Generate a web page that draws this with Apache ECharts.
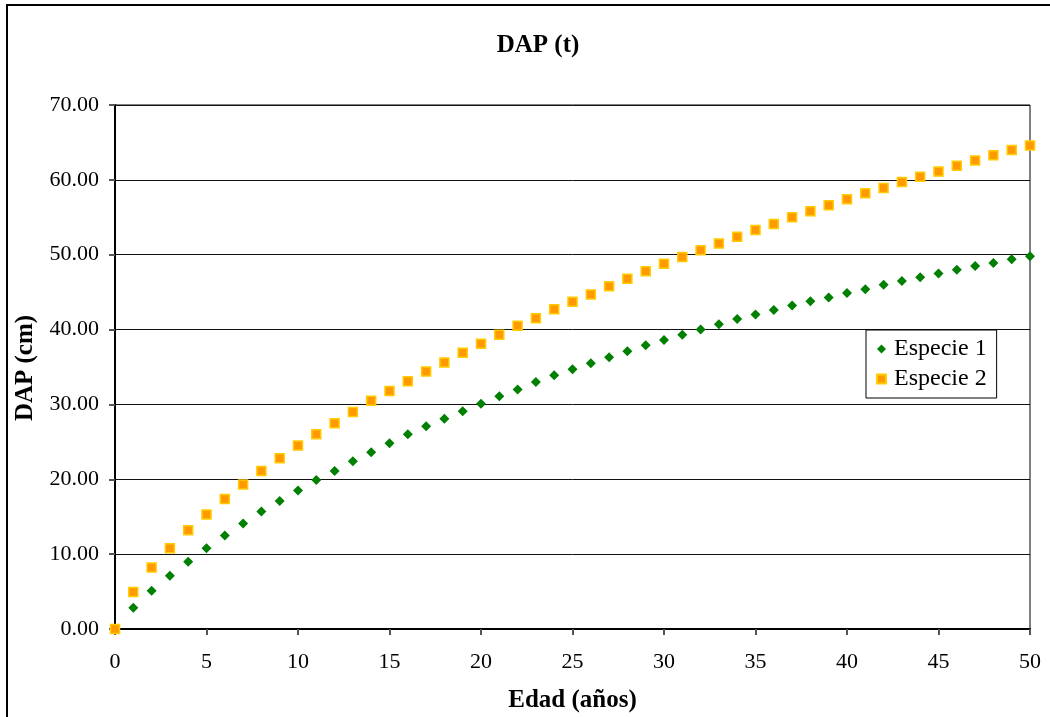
<!DOCTYPE html>
<html>
<head>
<meta charset="utf-8">
<script src="https://cdn.jsdelivr.net/npm/echarts@6/dist/echarts.min.js"></script>
<style>
  html, body { margin: 0; padding: 0; background: #fff; }
  #chart { width: 1050px; height: 717px; }
</style>
</head>
<body>
<div id="chart"></div>
<script>
// Edad en años (0..50)
const edades = [];
for (let t = 0; t <= 50; t++) edades.push(t);

// DAP (cm) por edad
const especie1 = [0, 2.85, 5.1, 7.1, 9.0, 10.8, 12.5, 14.1, 15.7, 17.1, 18.5,
  19.9, 21.1, 22.4, 23.6, 24.8, 26.0, 27.1, 28.1, 29.1, 30.1,
  31.1, 32.0, 33.0, 33.9, 34.7, 35.5, 36.3, 37.1, 37.9, 38.6,
  39.3, 40.0, 40.7, 41.4, 42.0, 42.6, 43.2, 43.8, 44.3, 44.9,
  45.4, 46.0, 46.5, 47.0, 47.5, 48.0, 48.5, 48.9, 49.4, 49.8];

const especie2 = [0, 4.95, 8.2, 10.8, 13.2, 15.3, 17.35, 19.3, 21.1, 22.8, 24.5,
  26.0, 27.5, 29.0, 30.5, 31.8, 33.1, 34.4, 35.6, 36.9, 38.1,
  39.3, 40.5, 41.5, 42.7, 43.7, 44.7, 45.8, 46.8, 47.8, 48.8,
  49.7, 50.6, 51.5, 52.4, 53.3, 54.1, 55.0, 55.8, 56.6, 57.4,
  58.2, 58.9, 59.7, 60.4, 61.1, 61.9, 62.6, 63.3, 64.0, 64.6];

const seriesNames = ['Especie 1', 'Especie 2'];
const titulo = 'DAP (t)';
const ejeX = 'Edad (años)';
const ejeY = 'DAP (cm)';

const serif = '"Liberation Serif", "Times New Roman", serif';

const chart = echarts.init(document.getElementById('chart'), null, { renderer: 'canvas' });

chart.setOption({
  backgroundColor: '#fff',
  animation: false,
  textStyle: { fontFamily: serif, color: '#000' },
  title: {
    text: titulo,
    left: 533, top: 28, textAlign: 'center',
    textStyle: { fontFamily: serif, fontWeight: 'bold', fontSize: 25, color: '#000' }
  },
  graphic: [
    {
      type: 'rect', x: 7, y: 5, silent: true,
      shape: { x: 0, y: 0, width: 1060, height: 730 },
      style: { fill: 'none', stroke: '#000', lineWidth: 2 }
    },
    {
      // rotated y-axis title
      type: 'text', x: 26, y: 368, rotation: Math.PI / 2, silent: true,
      style: {
        text: ejeY, x: 0, y: 0, align: 'center', verticalAlign: 'middle',
        font: 'bold 25px ' + serif, fill: '#000'
      }
    }
  ],
  legend: {
    orient: 'vertical',
    left: 866, top: 330,
    padding: [7, 10, 7, 10],
    itemGap: 6,
    itemWidth: 9, itemHeight: 9,
    borderColor: '#000', borderWidth: 1,
    backgroundColor: '#fff',
    textStyle: { fontFamily: serif, fontSize: 24, color: '#000', padding: [0, 0, 0, 3] },
    data: [
      { name: seriesNames[0], icon: 'diamond' },
      { name: seriesNames[1], icon: 'rect' }
    ]
  },
  grid: {
    left: 115, right: 20, top: 105, bottom: 88,
    outerBoundsMode: 'none',
    containLabel: false,
    show: true, borderColor: '#000', borderWidth: 1, backgroundColor: '#fff'
  },
  xAxis: {
    type: 'value',
    min: 0, max: 50, interval: 5,
    name: ejeX,
    nameLocation: 'middle',
    nameGap: 59,
    nameTextStyle: { fontFamily: serif, fontWeight: 'bold', fontSize: 25, color: '#000' },
    axisLine: { show: true, lineStyle: { color: '#000', width: 2 } },
    axisTick: { show: true, inside: false, length: 6, lineStyle: { color: '#555', width: 2 } },
    axisLabel: { fontFamily: serif, fontSize: 22, color: '#000', margin: 22 },
    splitLine: { show: false }
  },
  yAxis: {
    type: 'value',
    min: 0, max: 70, interval: 10,
    axisLine: { show: true, lineStyle: { color: '#000', width: 2 } },
    axisTick: { show: true, inside: false, length: 6, lineStyle: { color: '#555', width: 2 } },
    axisLabel: {
      fontFamily: serif, fontSize: 22, color: '#000', margin: 16,
      formatter: v => v.toFixed(2)
    },
    splitLine: { show: true, lineStyle: { color: '#111', width: 1 } }
  },
  series: [
    {
      name: seriesNames[0],
      type: 'scatter',
      symbol: 'diamond',
      symbolSize: 10,
      itemStyle: { color: '#008000', opacity: 1 },
      data: edades.map((t, i) => [t, especie1[i]]),
      z: 3
    },
    {
      name: seriesNames[1],
      type: 'scatter',
      symbol: 'rect',
      symbolSize: 9,
      itemStyle: { color: '#FF9900', borderColor: '#FFCC00', borderWidth: 1.5, opacity: 1 },
      data: edades.map((t, i) => [t, especie2[i]]),
      z: 4
    }
  ]
});
</script>
</body>
</html>
